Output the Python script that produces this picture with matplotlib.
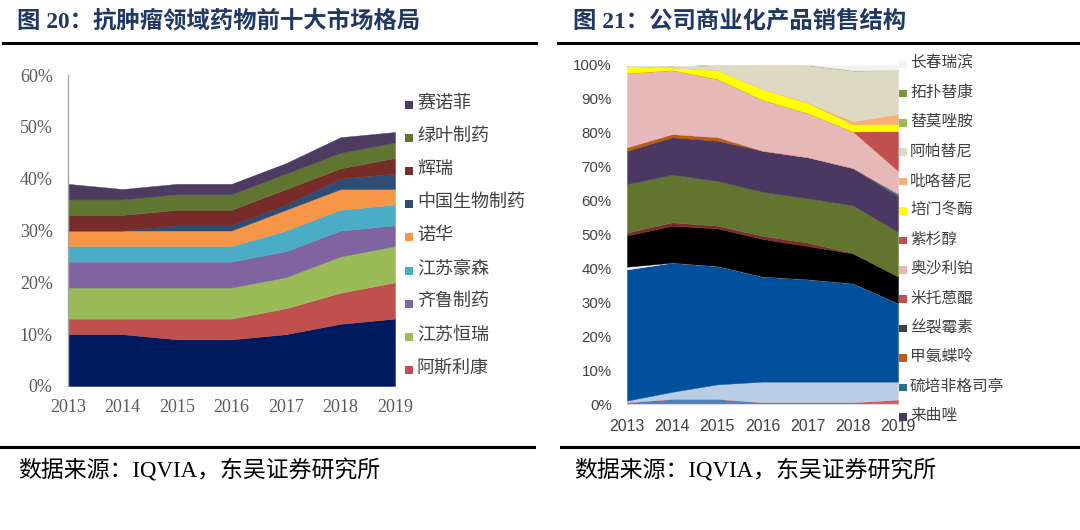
import matplotlib
matplotlib.use("Agg")
import matplotlib.pyplot as plt
from matplotlib.patches import Rectangle
from matplotlib.lines import Line2D
import numpy as np

# ---------------- data: left chart (share of market, %) ----------------
years = ["2013", "2014", "2015", "2016", "2017", "2018", "2019"]
left_names = ["罗氏", "阿斯利康", "江苏恒瑞", "齐鲁制药", "江苏豪森", "诺华",
              "中国生物制药", "辉瑞", "绿叶制药", "赛诺菲"]
roche      = [10, 10, 9, 9, 10, 12, 13]
astra      = [3, 3, 4, 4, 5, 6, 7]
hengrui    = [6, 6, 6, 6, 6, 7, 7]
qilu       = [5, 5, 5, 5, 5, 5, 4]
haosen     = [3, 3, 3, 3, 4, 4, 4]
novartis   = [3, 3, 3, 3, 4, 4, 3]
sinobio    = [0, 0, 1, 1, 1, 2, 3]
pfizer     = [3, 3, 3, 3, 3, 2, 3]
luye       = [3, 3, 3, 3, 3, 3, 3]
sanofi     = [3, 2, 2, 2, 2, 3, 2]
left_values = [roche, astra, hengrui, qilu, haosen, novartis, sinobio, pfizer, luye, sanofi]
left_colors = ["#001A5E", "#C0504D", "#9BBB59", "#8064A2", "#4BACC6", "#F79646",
               "#2C4D75", "#772C2A", "#5F7530", "#4D3B62"]
# legend (as shown, top to bottom; bottom series label is cut off in the original)
left_legend = ["赛诺菲", "绿叶制药", "辉瑞", "中国生物制药", "诺华", "江苏豪森",
               "齐鲁制药", "江苏恒瑞", "阿斯利康"]
left_legend_colors = ["#4D3B62", "#5F7530", "#772C2A", "#2C4D75", "#F79646",
                      "#4BACC6", "#8064A2", "#9BBB59", "#C0504D"]
left_yticks = [0, 10, 20, 30, 40, 50, 60]

# ---------------- data: right chart (sales structure, %) ----------------
# bottom-to-top stacking; first eight series have their legend entries cut off
s_a   = [0.5, 1.5, 1.5, 0.5, 0.5, 0.5, 0.3]
s_b   = [0, 0, 0, 0, 0, 0, 1.0]
s_c   = [0.5, 2.1, 4.3, 6.1, 6.1, 6.1, 5.3]
s_d   = [38.7, 38.1, 34.9, 31.0, 30.2, 29.0, 23.1]
s_e   = [0.8, 0, 0, 0, 0, 0, 0]
s_f   = [9.2, 10.9, 11.1, 11.1, 9.8, 8.8, 7.9]
s_g   = [0.9, 1.0, 0.8, 0.9, 1.0, 0.1, 0]
s_h   = [14.3, 14.1, 13.2, 13.0, 13.1, 14.1, 13.2]
letrozole    = [9.8, 11.0, 11.9, 12.1, 12.1, 11.0, 10.4]   # 来曲唑
pegfil       = [0, 0, 0, 0, 0, 0, 0.8]                     # 硫培非格司亭
methotrexate = [1.0, 0.9, 1.0, 0, 0, 0, 0]                 # 甲氨蝶呤
mitomycin    = [0, 0, 0, 0, 0, 0, 0]                       # 丝裂霉素
mitoxantrone = [0, 0, 0, 0, 0, 0, 0]                       # 米托蒽醌
oxaliplatin  = [21.9, 18.9, 17.2, 15.0, 13.0, 10.8, 6.8]   # 奥沙利铂
paclitaxel   = [0, 0, 0, 0, 0, 0, 11.7]                    # 紫杉醇
pegaspar     = [2.1, 0.8, 2.6, 3.2, 3.0, 2.1, 2.1]         # 培门冬酶
pyrotinib    = [0, 0, 0, 0, 0.2, 0.9, 2.9]                 # 吡咯替尼
apatinib     = [0, 0.3, 1.5, 7.1, 11.0, 15.0, 13.0]        # 阿帕替尼
temozolomide = [0, 0, 0, 0, 0, 0, 0]                       # 替莫唑胺
topotecan    = [0, 0, 0, 0, 0, 0, 0]                       # 拓扑替康
vinorelbine  = [0, 0, 0, 0, 0, 1.5, 1.5]                   # 长春瑞滨

right_values = [s_a, s_b, s_c, s_d, s_e, s_f, s_g, s_h, letrozole, pegfil,
                methotrexate, mitomycin, mitoxantrone, oxaliplatin, paclitaxel,
                pegaspar, pyrotinib, apatinib, temozolomide, topotecan, vinorelbine]
right_colors = ["#4F81BD", "#E0504D", "#B9CDE5", "#00509E", "#F2F2F2", "#000000",
                "#7F2A2A", "#61752F", "#4B3862", "#2B7089", "#C05A0E", "#404040",
                "#C0504D", "#E6B9B8", "#C0504D", "#FFFF00", "#F9AE72", "#DDD9C3",
                "#9BBB59", "#77933C", "#F2F2F2"]
right_legend = ["长春瑞滨", "拓扑替康", "替莫唑胺", "阿帕替尼", "吡咯替尼", "培门冬酶",
                "紫杉醇", "奥沙利铂", "米托蒽醌", "丝裂霉素", "甲氨蝶呤", "硫培非格司亭", "来曲唑"]
right_legend_colors = ["#F2F2F2", "#77933C", "#9BBB59", "#DDD9C3", "#F9AE72", "#FFFF00",
                       "#C0504D", "#E6B9B8", "#C0504D", "#404040", "#C05A0E", "#2B7089", "#4B3862"]
right_yticks = [0, 10, 20, 30, 40, 50, 60, 70, 80, 90, 100]

# ---------------- figure ----------------
W, H = 1080, 530
fig = plt.figure(figsize=(W / 100, H / 100), dpi=100)
fig.patch.set_facecolor("white")

def fx(x):
    return x / W

def fy(y):
    return 1 - y / H

CJK = "Noto Sans CJK SC"
SERIF_CJK = ["Liberation Serif", CJK]
SANS = ["Liberation Sans", CJK]

def stack(ax, values, colors):
    x = np.arange(len(years))
    polys = ax.stackplot(x, *[np.array(v, dtype=float) for v in values], colors=colors)
    for p, c in zip(polys, colors):
        p.set_edgecolor(c)
        p.set_linewidth(0.3)
    ax.set_xlim(0, len(years) - 1)
    ax.set_xticks(x)
    ax.set_xticklabels(years)

# ---- left axes ----
axL = fig.add_axes([fx(68), fy(386), fx(395) - fx(68), fy(75) - fy(386)])
stack(axL, left_values, left_colors)
axL.set_ylim(0, 60)
axL.set_yticks(left_yticks)
axL.set_yticklabels([f"{t}%" for t in left_yticks])
for s in ["top", "right", "bottom"]:
    axL.spines[s].set_visible(False)
axL.spines["left"].set_color("#A6A6A6")
axL.spines["left"].set_linewidth(1.0)
axL.tick_params(axis="both", length=0, labelsize=13, colors="#595959")
axL.tick_params(axis="y", pad=11)
axL.tick_params(axis="x", pad=9)
for lab in axL.get_xticklabels() + axL.get_yticklabels():
    lab.set_family(SERIF_CJK)

# ---- right axes ----
axR = fig.add_axes([fx(627), fy(404), fx(898) - fx(627), fy(65) - fy(404)])
stack(axR, right_values, right_colors)
axR.set_ylim(0, 100)
axR.set_yticks(right_yticks)
axR.set_yticklabels([f"{t}%" for t in right_yticks])
for s in ["top", "right", "left"]:
    axR.spines[s].set_visible(False)
axR.spines["bottom"].set_color("#D9D9D9")
axR.tick_params(axis="both", length=0, colors="#404040")
axR.tick_params(axis="y", labelsize=10.8, pad=11)
axR.tick_params(axis="x", labelsize=11.5, pad=11)
for lab in axR.get_xticklabels() + axR.get_yticklabels():
    lab.set_family(SANS)

# ---- legends (drawn manually in figure coordinates) ----
def legend(labels, colors, x_sq, x_txt, y0, dy, sq, fs):
    for i, (lab, col) in enumerate(zip(labels, colors)):
        yc = y0 + i * dy
        fig.patches.append(Rectangle((fx(x_sq - sq / 2), fy(yc + sq / 2)), sq / W, sq / H,
                                     transform=fig.transFigure, facecolor=col,
                                     edgecolor="none"))
        fig.text(fx(x_txt), fy(yc - fs * 1.389 * 0.62), lab, fontsize=fs, family=CJK,
                 color="#404040", va="top", ha="left")

legend(left_legend, left_legend_colors, 409, 417, 105, 33.1, 8, 13)
legend(right_legend, right_legend_colors, 903, 910, 64, 29.4, 7.5, 11.3)

# ---- titles, rules, footers ----
title_color = "#1F3864"
fig.text(fx(17), fy(21), "图 20：抗肿瘤领域药物前十大市场格局", fontsize=16.8,
         fontweight="bold", family=SERIF_CJK, color=title_color, va="center", ha="left")
fig.text(fx(573), fy(21), "图 21：公司商业化产品销售结构", fontsize=16.8,
         fontweight="bold", family=SERIF_CJK, color=title_color, va="center", ha="left")

for (x0, x1, y) in [(3, 536, 43), (558, 1078, 43), (0, 534, 447), (561, 1080, 447)]:
    fig.add_artist(Line2D([fx(x0), fx(x1)], [fy(y), fy(y)], transform=fig.transFigure,
                          color="black", linewidth=2.2))

fig.text(fx(18), fy(471), "数据来源：IQVIA，东吴证券研究所", fontsize=16.5,
         family=SERIF_CJK, color="black", va="center", ha="left")
fig.text(fx(574), fy(471), "数据来源：IQVIA，东吴证券研究所", fontsize=16.5,
         family=SERIF_CJK, color="black", va="center", ha="left")

fig.savefig("out.png", dpi=100, facecolor="white")
